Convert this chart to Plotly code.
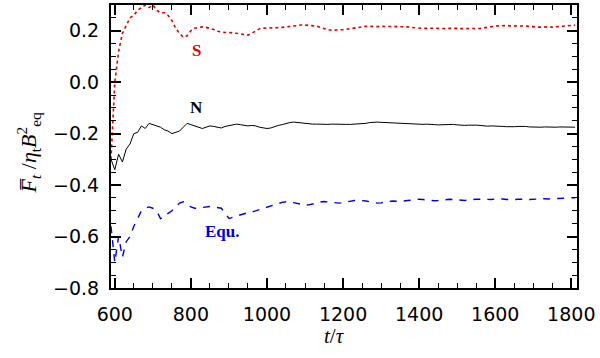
import plotly.graph_objects as go

# time axis (t / tau)
t = list(range(590, 1811, 10))

s_vals = [
    -0.30, 0.00, 0.12, 0.19, 0.22, 0.25, 0.26, 0.28, 0.29, 0.30,
    0.29, 0.30, 0.28, 0.27, 0.27, 0.26, 0.24, 0.21, 0.19, 0.175,
    0.18, 0.20, 0.21, 0.213, 0.215, 0.213, 0.21, 0.205, 0.198, 0.194,
    0.193, 0.193, 0.192, 0.19, 0.188, 0.185, 0.183, 0.19, 0.20, 0.207,
    0.21, 0.21, 0.211, 0.212, 0.212, 0.213, 0.215, 0.218, 0.22, 0.221,
    0.222, 0.222, 0.221, 0.22, 0.218, 0.213, 0.208, 0.204, 0.202, 0.202,
    0.203, 0.204, 0.206, 0.208, 0.211, 0.214, 0.216, 0.217, 0.217, 0.216,
    0.216, 0.217, 0.217, 0.216, 0.215, 0.215, 0.216, 0.216, 0.215, 0.213,
    0.211, 0.21, 0.209, 0.209, 0.21, 0.21, 0.209, 0.208, 0.208, 0.209,
    0.21, 0.209, 0.208, 0.208, 0.209, 0.209, 0.208, 0.209, 0.211, 0.214,
    0.217, 0.218, 0.219, 0.22, 0.22, 0.219, 0.219, 0.22, 0.219, 0.218,
    0.217, 0.215, 0.214, 0.214, 0.215, 0.215, 0.214, 0.215, 0.216, 0.218,
    0.22, 0.221, 0.222,
]

n_vals = [
    -0.30, -0.34, -0.28, -0.31, -0.26, -0.24, -0.20, -0.195, -0.17, -0.18,
    -0.16, -0.165, -0.17, -0.175, -0.185, -0.19, -0.20, -0.195, -0.19, -0.175,
    -0.16, -0.165, -0.17, -0.175, -0.18, -0.175, -0.17, -0.172, -0.175, -0.178,
    -0.172, -0.168, -0.165, -0.163, -0.165, -0.168, -0.17, -0.168, -0.17, -0.175,
    -0.178, -0.18, -0.178, -0.172, -0.168, -0.165, -0.16, -0.157, -0.155, -0.157,
    -0.158, -0.16, -0.162, -0.163, -0.163, -0.164, -0.163, -0.164, -0.163, -0.164,
    -0.163, -0.163, -0.164, -0.164, -0.163, -0.162, -0.163, -0.16, -0.157, -0.155,
    -0.155, -0.156, -0.157, -0.157, -0.158, -0.158, -0.158, -0.159, -0.16, -0.162,
    -0.164, -0.165, -0.164, -0.163, -0.163, -0.165, -0.166, -0.165, -0.164, -0.163,
    -0.164, -0.166, -0.168, -0.168, -0.167, -0.166, -0.167, -0.168, -0.17, -0.171,
    -0.17, -0.17, -0.171, -0.172, -0.173, -0.174, -0.173, -0.172, -0.171, -0.172,
    -0.174, -0.175, -0.176, -0.175, -0.174, -0.175, -0.176, -0.175, -0.174, -0.174,
    -0.175, -0.176, -0.175,
]

equ_vals = [
    -0.56, -0.70, -0.60, -0.68, -0.62, -0.60, -0.56, -0.53, -0.50, -0.49,
    -0.485, -0.49, -0.50, -0.53, -0.525, -0.51, -0.50, -0.485, -0.47, -0.465,
    -0.475, -0.485, -0.49, -0.49, -0.487, -0.485, -0.483, -0.485, -0.487, -0.49,
    -0.51, -0.53, -0.525, -0.52, -0.515, -0.51, -0.507, -0.505, -0.50, -0.495,
    -0.49, -0.485, -0.48, -0.475, -0.47, -0.467, -0.465, -0.465, -0.468, -0.472,
    -0.475, -0.478, -0.477, -0.473, -0.469, -0.466, -0.464, -0.465, -0.467, -0.469,
    -0.47, -0.468, -0.465, -0.462, -0.46, -0.459, -0.46, -0.462, -0.465, -0.468,
    -0.47, -0.469, -0.466, -0.463, -0.462, -0.463, -0.463, -0.462, -0.46, -0.458,
    -0.456, -0.455, -0.456, -0.458, -0.46, -0.461, -0.46, -0.458, -0.456, -0.455,
    -0.456, -0.458, -0.46, -0.46, -0.458, -0.456, -0.455, -0.455, -0.456, -0.457,
    -0.456, -0.454, -0.453, -0.454, -0.456, -0.457, -0.456, -0.455, -0.454, -0.455,
    -0.456, -0.455, -0.453, -0.452, -0.453, -0.454, -0.453, -0.452, -0.451, -0.451,
    -0.45, -0.45, -0.449,
]

x_ticks = [600, 800, 1000, 1200, 1400, 1600, 1800]
y_ticks = [-0.8, -0.6, -0.4, -0.2, 0.0, 0.2]
y_ticklabels = ["\u22120.8", "\u22120.6", "\u22120.4", "\u22120.2", "0.0", "0.2"]

fig = go.Figure()
fig.add_trace(go.Scatter(x=t, y=s_vals, mode="lines",
                         line=dict(color="#e00000", width=1.6, dash="dot"), name="S"))
fig.add_trace(go.Scatter(x=t, y=n_vals, mode="lines",
                         line=dict(color="black", width=1), name="N"))
fig.add_trace(go.Scatter(x=t, y=equ_vals, mode="lines",
                         line=dict(color="#0000e0", width=1.4, dash="7px,7px"), name="Equ."))

lab_font = dict(family="Liberation Serif", size=17, color="black")
fig.add_annotation(x=816, y=0.125, text="<b>S</b>", showarrow=False,
                   font=dict(lab_font, color="#e00000"))
fig.add_annotation(x=816, y=-0.10, text="<b>N</b>", showarrow=False,
                   font=dict(lab_font, color="black"))
fig.add_annotation(x=882, y=-0.582, text="<b>Equ.</b>", showarrow=False,
                   font=dict(lab_font, color="#0000e0"))

fig.add_annotation(xref="paper", yref="paper", x=-0.215, y=0.48,
                   text="<i>F\u0305</i><sub><i>t</i></sub> /<i>\u03b7</i><sub>t</sub><i>B</i><sup>2</sup><sub>eq</sub>",
                   textangle=-90, showarrow=False,
                   font=dict(family="Liberation Serif", size=22, color="black"))
fig.add_annotation(xref="paper", yref="paper", x=0.48, y=-0.12,
                   text="<i>t</i>/<i>\u03c4</i>", showarrow=False, yanchor="top",
                   font=dict(family="Liberation Serif", size=21, color="black"))

axis_common = dict(showgrid=False, zeroline=False, showline=True, linecolor="black",
                   linewidth=2, mirror="allticks", ticks="inside", tickcolor="black",
                   tickwidth=1.5, ticklen=10,
                   tickfont=dict(family="DejaVu Sans", size=19, color="black"))

fig.update_xaxes(range=[590, 1815], tickvals=x_ticks,
                 ticktext=[str(v) for v in x_ticks],
                 minor=dict(dtick=50, tick0=600, ticks="inside", ticklen=5,
                            tickcolor="black", tickwidth=1.2),
                 ticklabelstandoff=8, automargin=False, **axis_common)
fig.update_yaxes(range=[-0.8, 0.3], tickvals=y_ticks, ticktext=y_ticklabels,
                 minor=dict(dtick=0.05, tick0=0, ticks="inside", ticklen=5,
                            tickcolor="black", tickwidth=1.2),
                 ticklabelstandoff=6, automargin=False, **axis_common)

fig.update_layout(width=600, height=358, margin=dict(l=111, r=23, t=5, b=70),
                  paper_bgcolor="white", plot_bgcolor="white", showlegend=False)

fig.write_html("out.html", config={"displayModeBar": False},
               post_script="document.body.style.margin='0px';document.body.style.padding='0px';")
